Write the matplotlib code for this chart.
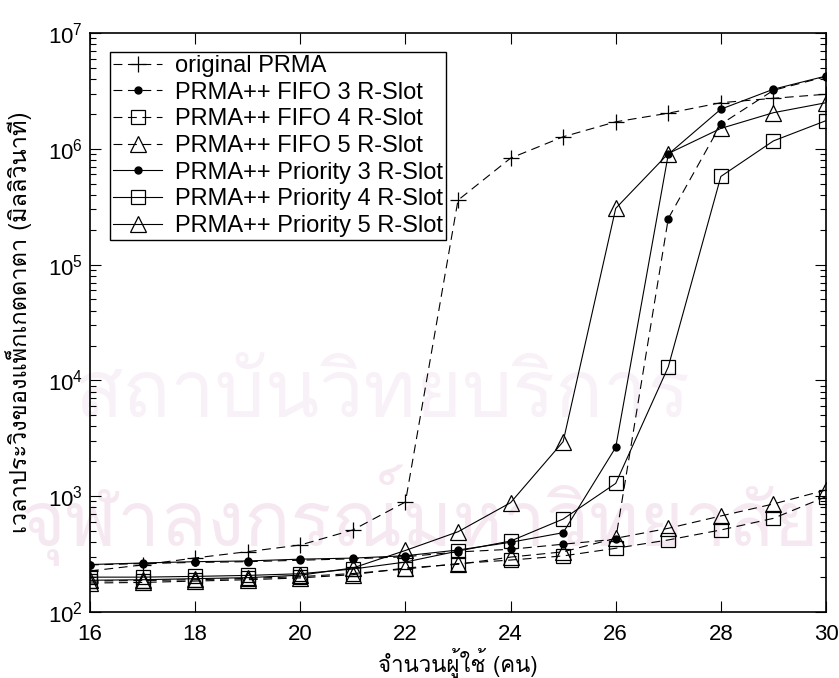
import matplotlib
matplotlib.use("Agg")
import matplotlib.pyplot as plt
from matplotlib import font_manager
from matplotlib.ticker import LogLocator, NullFormatter
from fontTools.ttLib import TTFont

# Number of users
users = [16, 17, 18, 19, 20, 21, 22, 23, 24, 25, 26, 27, 28, 29, 30]

# Packet data delay (ms)
original_prma = [226, 255, 293, 332, 379, 511, 891, 3.6e5, 8.3e5, 1.27e6, 1.71e6, 2.03e6, 2.5e6, 2.73e6, 2.96e6]
fifo_3 = [255, 262, 268, 272, 280, 288, 300, 330, 348, 385, 425, 2.5e5, 1.63e6, 3.2e6, 4.2e6]
fifo_4 = [185, 187, 190, 195, 202, 215, 235, 262, 281, 305, 355, 419, 511, 644, 990]
fifo_5 = [178, 180, 185, 190, 197, 210, 240, 258, 298, 331, 433, 528, 675, 857, 1132]
prio_3 = [257, 265, 272, 276, 286, 292, 306, 343, 400, 484, 2640, 8.97e5, 2.2e6, 3.27e6, 4.25e6]
prio_4 = [200, 200, 203, 207, 214, 235, 270, 336, 410, 635, 1290, 13100, 5.77e5, 1.17e6, 1.75e6]
prio_5 = [188, 190, 194, 198, 208, 240, 340, 493, 879, 2960, 3.06e5, 9.1e5, 1.5e6, 2.05e6, 2.5e6]

labels = ["original PRMA", "PRMA++ FIFO 3 R-Slot", "PRMA++ FIFO 4 R-Slot",
          "PRMA++ FIFO 5 R-Slot", "PRMA++ Priority 3 R-Slot",
          "PRMA++ Priority 4 R-Slot", "PRMA++ Priority 5 R-Slot"]

xlabel_text = "จำนวนผู้ใช้ (คน)"
ylabel_text = "เวลาประวิงของแพ็กเกตดาตา (มิลลิวินาที)"
mark_line1 = "สถาบันวิทยบริการ"
mark_line2 = "จุฬาลงกรณ์มหาวิทยาลัย"


def find_thai_family():
    seen = set()
    for f in font_manager.fontManager.ttflist:
        if f.name in seen:
            continue
        seen.add(f.name)
        try:
            tt = TTFont(f.fname, fontNumber=0, lazy=True)
            cmap = tt.getBestCmap()
            if cmap and ord("จ") in cmap and ord("ผ") in cmap:
                return f.name
        except Exception:
            continue
    return None


thai = find_thai_family()
latin = "Liberation Sans"
thai_fams = ([thai] if thai else []) + ["DejaVu Sans"]

plt.rcParams["font.family"] = [latin, "DejaVu Sans"]
plt.rcParams["mathtext.fontset"] = "custom"
plt.rcParams["mathtext.rm"] = latin
plt.rcParams["mathtext.it"] = latin

fig = plt.figure(figsize=(8.39, 6.78), dpi=100)
ax = fig.add_axes([90 / 839, 1 - 612 / 678, 736 / 839, 579 / 678])
ax.patch.set_alpha(0)

# faint background stamp
fig.text(0.455, 0.415, mark_line1, ha="center", va="center", fontsize=57,
         color="#f8f1f7", family=thai_fams, zorder=-5)
fig.text(0.5, 0.24, mark_line2, ha="center", va="center", fontsize=55,
         color="#f6e8f1", family=thai_fams, zorder=-5)

lw = 0.8
dash = (8, 5)
hollow = dict(markerfacecolor="none", markeredgecolor="black", markeredgewidth=0.9)

ax.plot(users, original_prma, color="black", lw=lw, dashes=dash, marker="+",
        markersize=12, markeredgewidth=0.9, label=labels[0])
ax.plot(users, fifo_3, color="black", lw=lw, dashes=dash, marker="o",
        markersize=5, label=labels[1])
ax.plot(users, fifo_4, color="black", lw=lw, dashes=dash, marker="s",
        markersize=10, label=labels[2], **hollow)
ax.plot(users, fifo_5, color="black", lw=lw, dashes=dash, marker="^",
        markersize=12, label=labels[3], **hollow)
ax.plot(users, prio_3, color="black", lw=lw, marker="o",
        markersize=5, label=labels[4])
ax.plot(users, prio_4, color="black", lw=lw, marker="s",
        markersize=10, label=labels[5], **hollow)
ax.plot(users, prio_5, color="black", lw=lw, marker="^",
        markersize=12, label=labels[6], **hollow)

ax.set_yscale("log")
ax.set_xlim(16, 30)
ax.set_ylim(1e2, 1e7)
ax.set_xticks([16, 18, 20, 22, 24, 26, 28, 30])
ax.yaxis.set_major_locator(LogLocator(base=10, numticks=10))
ax.yaxis.set_minor_locator(LogLocator(base=10, subs=range(2, 10), numticks=50))
ax.yaxis.set_minor_formatter(NullFormatter())

ax.tick_params(which="both", direction="in", top=True, right=True,
               labelsize=16, width=0.8)
ax.tick_params(which="major", length=8)
ax.tick_params(axis="x", which="major", pad=9)
ax.tick_params(axis="y", which="major", pad=5)
ax.tick_params(which="minor", length=4)
for s in ax.spines.values():
    s.set_linewidth(1.2)

ax.set_xlabel(xlabel_text, family=thai_fams, fontsize=16, labelpad=2)
ax.set_ylabel(ylabel_text, family=thai_fams, fontsize=17, labelpad=11.5)

leg = ax.legend(loc="upper left", bbox_to_anchor=(20 / 736, 1 - 19 / 579),
                borderaxespad=0, fontsize=17, handlelength=2.1,
                handletextpad=0.55, labelspacing=0.2, borderpad=0.12,
                fancybox=False, framealpha=1, edgecolor="black")
leg.get_frame().set_linewidth(1.0)

fig.savefig("out.png", dpi=100)
